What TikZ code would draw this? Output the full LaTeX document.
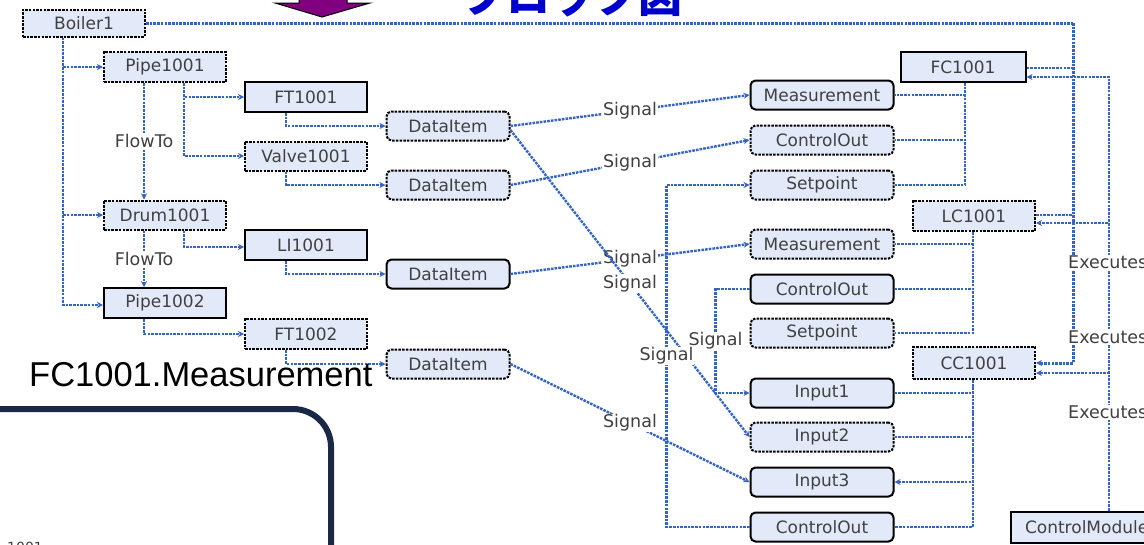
\documentclass[tikz,border=0pt]{standalone}
\usepackage{fontspec}
\usetikzlibrary{arrows.meta,calc}
\newfontfamily\dv{DejaVu Sans}
\newfontfamily\lib{Liberation Sans}
\newfontfamily\jp{Noto Sans CJK JP}
\definecolor{linkblue}{RGB}{52,100,196}
\definecolor{boxfill}{RGB}{226,234,250}
\definecolor{txtgray}{RGB}{64,64,64}
\definecolor{navy}{RGB}{24,40,70}
\definecolor{titleblue}{RGB}{0,0,204}
\definecolor{arrowpurple}{RGB}{128,0,128}
\tikzset{
  blk/.style={draw=black, line width=2pt, fill=boxfill, minimum width=122pt,
    minimum height=29pt, inner sep=0pt, text=txtgray, font=\dv\fontsize{17}{19}\selectfont},
  blkd/.style={blk, dash pattern=on 2.5pt off 1.2pt},
  rbox/.style={blk, rounded corners=5pt, minimum width=143pt},
  rboxd/.style={rbox, dash pattern=on 2.5pt off 1.2pt},
  dbox/.style={rbox, minimum width=123pt},
  dboxd/.style={rboxd, minimum width=123pt},
  link/.style={draw=linkblue, line width=2.4pt, dash pattern=on 2.6pt off 1.1pt},
  tip/.style={-{Stealth[length=6pt,width=6pt]}},
  lbl/.style={fill=white, inner sep=1pt, text=txtgray, font=\dv\fontsize{17.5}{19}\selectfont},
}
\begin{document}
\begin{tikzpicture}[x=1pt,y=-1pt]
\useasboundingbox (0,0) rectangle (1144,544);
\clip (0,0) rectangle (1144,544);

% heading and arrow above the diagram
\node[anchor=base, text=titleblue, font=\jp\bfseries\fontsize{44}{48}\selectfont] (title) at (572,12) {ブロック図};
\draw[fill=arrowpurple, draw=black, line width=1pt]
  (299,-30) -- (347,-30) -- (347,3) -- (370,3) -- (322,17) -- (275,3) -- (299,3) -- cycle;

% plant objects
\node[blkd] (boiler) at (84,23) [minimum height=27pt] {Boiler1};
\node[blkd] (pipe1) at (165,67) [minimum height=30pt] {Pipe1001};
\node[blk]  (ft1)   at (306,97) [minimum height=30pt] {FT1001};
\node[blkd] (valve) at (306,156) {Valve1001};
\node[blkd] (drum)  at (165,215) {Drum1001};
\node[blk]  (li)    at (306,245) [minimum height=30pt] {LI1001};
\node[blk]  (pipe2) at (165,303) [minimum height=30pt] {Pipe1002};
\node[blkd] (ft2)   at (306,334) [minimum height=30pt] {FT1002};

% data items
\node[dboxd] (d1) at (448,126) {DataItem};
\node[dboxd] (d2) at (448,185) {DataItem};
\node[dbox]  (d3) at (448,274) {DataItem};
\node[dboxd] (d4) at (448,364) {DataItem};

% function block ports
\node[rbox]  (m1)  at (822,95)  {Measurement};
\node[rboxd] (c1)  at (822,140) {ControlOut};
\node[rboxd] (s1)  at (822,185) {Setpoint};
\node[rboxd] (m2)  at (822,244) {Measurement};
\node[rbox]  (c2)  at (822,289) {ControlOut};
\node[rboxd] (s2)  at (822,333) {Setpoint};
\node[rbox]  (i1)  at (822,393) {Input1};
\node[rboxd] (i2)  at (822,437) {Input2};
\node[rbox]  (i3)  at (822,482) {Input3};
\node[rbox]  (c3)  at (822,527) {ControlOut};

% controllers
\node[blk]  (fc) at (963,67)  [minimum width=125pt, minimum height=30pt] {FC1001};
\node[blkd] (lc) at (974,216) [minimum height=30pt] {LC1001};
\node[blkd] (cc) at (974,363) [minimum height=32pt] {CC1001};
\node[blk, anchor=west, minimum width=150pt, minimum height=31pt, align=left, text width=140pt, inner xsep=0pt]
  (cm) at (1010,527) {\hspace*{9pt}ControlModule};

% boiler bus on the left
\draw[link,tip] ([xshift=-21pt]boiler.south) |- (pipe1.west);
\draw[link,tip] ([xshift=-21pt]boiler.south) |- (drum.west);
\draw[link,tip] ([xshift=-21pt]boiler.south) |- ([yshift=-2pt]pipe2.west);

% flow path
\draw[link,tip] ([xshift=-21pt]pipe1.south) -- node[lbl]{FlowTo} ([xshift=-21pt]drum.north);
\draw[link,tip] ([xshift=-21pt]drum.south) -- node[lbl]{FlowTo} ([xshift=-21pt]pipe2.north);

% instruments
\draw[link,tip] ([xshift=19pt]pipe1.south) |- (ft1.west);
\draw[link,tip] ([xshift=19pt]pipe1.south) |- (valve.west);
\draw[link,tip] ([xshift=19pt]drum.south) |- ([yshift=-2pt]li.west);
\draw[link,tip] ([xshift=-21pt]pipe2.south) |- (ft2.west);

% instruments to data items
\draw[link,tip] ([xshift=-20pt]ft1.south) |- (d1.west);
\draw[link,tip] ([xshift=-20pt]valve.south) |- (d2.west);
\draw[link,tip] ([xshift=-20pt]li.south) |- (d3.west);
\draw[link,tip] ([xshift=-20pt]ft2.south) |- (d4.west);

% signals between data items and ports
\draw[link,tip] (d1.east) -- node[lbl]{Signal} (m1.west);
\draw[link,tip] (d2.east) -- node[lbl]{Signal} (c1.west);
\draw[link,tip] (d3.east) -- node[lbl]{Signal} (m2.west);
\draw[link,tip] ([yshift=-4pt]d1.east) -- node[lbl, pos=0.5]{Signal} (i2.west);
\draw[link,tip] (d4.east) -- node[lbl]{Signal} (i3.west);
\draw[link,tip] (c2.west) -- ++(-34,0) |- node[lbl, pos=0.25]{Signal} (i1.west);
\draw[link,tip] (c3.west) -- ++(-83,0) |- node[lbl, pos=0.25]{Signal} (s1.west);

% ports to their controllers
\draw[link] ([xshift=2pt]fc.south) |- (m1.east);
\draw[link] ([xshift=2pt]fc.south) |- (c1.east);
\draw[link] ([xshift=2pt]fc.south) |- (s1.east);
\draw[link] ([xshift=-1pt]lc.south) |- (m2.east);
\draw[link] ([xshift=-1pt]lc.south) |- (c2.east);
\draw[link] ([xshift=-1pt]lc.south) |- (s2.east);
\draw[link] ([xshift=-1pt]cc.south) |- (i1.east);
\draw[link] ([xshift=-1pt]cc.south) |- (i2.east);
\draw[link,{Stealth[length=6pt,width=6pt]}-] (i3.east) -| ([xshift=-1pt]cc.south);
\draw[link] ([xshift=-1pt]cc.south) |- (c3.east);

% boiler to the controllers
\coordinate (jb) at (1073,23);
\coordinate (ex) at (1109,77);
\draw[link, line width=3pt] (boiler.east) -- (jb);
\draw[link, line width=3pt, tip] (jb) |- (cc.east);
\draw[link] ([yshift=-1pt]fc.east) -- ([yshift=-1pt]fc.east -| jb);
\draw[link] ([yshift=1pt]lc.east) -- ([yshift=1pt]lc.east -| jb);

% control module executes the controllers
\draw[link,tip] (cm.north -| ex) |- ([yshift=-10pt]fc.east);
\draw[link,tip] (cm.north -| ex) |- ([yshift=-7pt]lc.east);
\draw[link,tip] (cm.north -| ex) |- ([yshift=-10pt]cc.east);
\node[lbl, anchor=west] (x1) at (1067,262) {Executes};
\node[lbl, anchor=west] (x2) at (1067,337) {Executes};
\node[lbl, anchor=west] (x3) at (1067,412) {Executes};

% caption and framed panel
\node[anchor=base west, inner sep=0pt, font=\lib\fontsize{34.5}{38}\selectfont] (cap) at (29,386) {FC1001.Measurement};
\draw[navy, line width=6pt, rounded corners=38pt] (-20,409) -- (331,409) -- (331,580);
\node[anchor=base west, inner sep=0pt, text=txtgray, font=\dv\fontsize{14}{16}\selectfont] (small) at (7,552) {1001};
\end{tikzpicture}
\end{document}
